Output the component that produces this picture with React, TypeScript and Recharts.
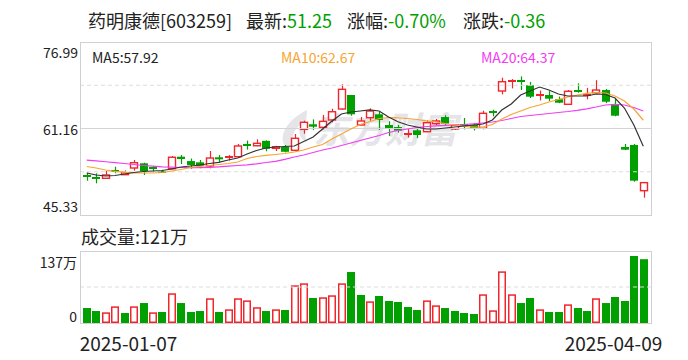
import React from 'react';
import { ComposedChart, Bar, Line, XAxis, YAxis, ReferenceLine } from 'recharts';

// trading days shown on the chart
const dates = [
  '2025-01-07', '2025-01-08', '2025-01-09', '2025-01-10', '2025-01-13', '2025-01-14', '2025-01-15', '2025-01-16',
  '2025-01-17', '2025-01-20', '2025-01-21', '2025-01-22', '2025-01-23', '2025-01-24', '2025-01-27',
  '2025-02-05', '2025-02-06', '2025-02-07', '2025-02-10', '2025-02-11', '2025-02-12', '2025-02-13', '2025-02-14',
  '2025-02-17', '2025-02-18', '2025-02-19', '2025-02-20', '2025-02-21', '2025-02-24', '2025-02-25', '2025-02-26',
  '2025-02-27', '2025-02-28',
  '2025-03-03', '2025-03-04', '2025-03-05', '2025-03-06', '2025-03-07', '2025-03-10', '2025-03-11', '2025-03-12',
  '2025-03-13', '2025-03-14', '2025-03-17', '2025-03-18', '2025-03-19', '2025-03-20', '2025-03-21', '2025-03-24',
  '2025-03-25', '2025-03-26', '2025-03-27', '2025-03-28', '2025-03-31',
  '2025-04-01', '2025-04-02', '2025-04-03', '2025-04-07', '2025-04-08', '2025-04-09',
];

const opens = [
  52.5, 52.2, 52.05, 53.48, 52.71, 53.93, 54.79, 53.92, 53.3, 53.8, 56.0, 55.2, 54.97, 54.3, 55.89,
  55.8, 56.0, 58.2, 58.0, 58.9, 57.53, 57.77, 57.17, 61.0, 61.93, 61.38, 62.72, 64.73, 67.29, 61.8,
  63.14, 63.76, 61.8, 61.43, 60.2, 60.83, 60.57, 62.04, 63.26, 61.07, 61.78, 61.8, 61.2, 64.2, 68.02,
  69.7, 69.95, 69.06, 67.3, 67.29, 66.5, 65.59, 68.05, 67.2, 67.71, 68.2, 65.46, 57.77, 58.14, 49.78,
];
const highs = [
  53.07, 52.96, 53.38, 54.17, 53.5, 55.4, 54.9, 54.3, 53.6, 56.13, 56.31, 55.66, 55.4, 57.04, 56.3,
  56.3, 58.32, 58.95, 59.18, 59.0, 58.0, 58.14, 60.15, 62.59, 62.83, 63.63, 64.78, 69.25, 67.3, 63.26,
  64.85, 64.2, 62.5, 61.8, 61.1, 61.2, 62.66, 62.9, 63.6, 61.8, 63.08, 62.1, 64.42, 64.6, 70.46,
  70.2, 70.7, 69.68, 68.1, 68.0, 67.0, 68.2, 69.43, 68.6, 70.0, 68.4, 66.6, 58.32, 58.32, 51.4,
];
const lows = [
  51.6, 51.13, 52.0, 52.96, 52.65, 53.44, 52.65, 53.2, 53.1, 53.7, 54.66, 53.8, 53.9, 53.87, 54.9,
  55.3, 55.95, 57.3, 57.9, 57.0, 57.04, 56.8, 57.0, 60.2, 60.9, 61.0, 62.3, 64.6, 63.5, 61.7,
  62.6, 60.9, 59.8, 60.4, 59.5, 59.4, 60.5, 61.8, 61.7, 60.9, 61.0, 60.8, 61.0, 63.4, 67.4,
  68.5, 68.2, 66.74, 66.3, 66.2, 65.8, 65.5, 67.7, 66.5, 67.6, 65.8, 63.4, 57.2, 51.43, 48.5,
];
const closes = [
  52.45, 52.14, 52.65, 53.42, 53.07, 54.9, 53.38, 53.87, 53.25, 55.9, 55.58, 54.48, 54.3, 55.76, 55.52,
  55.99, 57.96, 58.1, 58.45, 57.45, 57.83, 56.9, 59.37, 62.29, 61.49, 62.47, 64.23, 68.33, 63.76, 62.53,
  64.36, 62.72, 61.07, 60.76, 60.28, 59.97, 62.22, 62.53, 62.04, 61.75, 61.7, 61.2, 63.94, 64.12, 69.72,
  69.85, 69.8, 66.98, 67.42, 66.62, 65.88, 67.97, 67.9, 67.29, 68.2, 66.06, 63.5, 57.28, 51.61, 51.25,
];
// 成交量, 万
const volumes = [
  28.5, 22.8, 20.3, 31.7, 19.0, 31.7, 38.0, 20.3, 21.0, 56.5, 38.0, 21.0, 22.8, 47.0, 21.0,
  26.0, 47.0, 43.0, 30.0, 22.8, 26.0, 24.7, 71.7, 75.5, 47.6, 48.9, 52.7, 75.5, 97.0, 53.3,
  41.2, 51.4, 41.9, 40.0, 30.4, 24.7, 43.0, 33.6, 28.5, 22.8, 19.0, 17.1, 54.6, 24.1, 98.3,
  54.6, 38.0, 47.6, 26.0, 21.0, 21.0, 35.5, 28.5, 22.8, 47.0, 38.0, 49.5, 41.9, 127.5, 121.4,
];
// moving averages
const ma5 = [
  53.02, 52.65, 52.47, 52.56, 52.83, 53.11, 53.29, 53.38, 53.47, 53.75, 54.11, 54.3, 54.48, 54.75, 54.97,
  55.39, 55.76, 56.49, 57.13, 57.59, 57.77, 57.87, 57.96, 58.78, 59.6, 61.07, 62.53, 63.81, 64.18, 64.36,
  64.55, 64.36, 63.26, 62.4, 61.8, 61.43, 61.07, 61.07, 61.25, 61.43, 61.62, 61.8, 61.98, 62.72, 64.55,
  65.64, 67.29, 68.02, 68.75, 68.21, 67.47, 67.11, 67.11, 67.11, 67.47, 67.38, 66.74, 64.91, 61.8, 57.92,
];
const ma10 = [
  54.21, 53.93, 53.56, 53.33, 53.16, 53.05, 53.02, 53.02, 53.11, 53.38, 53.66, 54.02, 54.24, 54.39, 54.57,
  54.75, 55.03, 55.67, 56.04, 56.25, 56.4, 56.58, 56.86, 57.22, 57.77, 58.23, 59.24, 60.15, 61.07, 61.89,
  62.4, 62.99, 63.17, 63.12, 62.99, 62.81, 62.57, 62.35, 62.07, 61.8, 61.56, 61.4, 61.43, 61.89, 62.9,
  63.72, 64.36, 65.0, 65.46, 66.01, 66.47, 66.92, 67.29, 67.6, 67.75, 67.66, 67.11, 66.19, 64.73, 62.67,
];
const ma20 = [
  55.39, 55.25, 55.07, 54.9, 54.75, 54.57, 54.39, 54.26, 54.15, 54.08, 54.02, 54.0, 54.0, 54.06, 54.15,
  54.26, 54.39, 54.52, 54.7, 54.94, 55.16, 55.52, 55.94, 56.31, 56.77, 57.22, 57.59, 58.05, 58.51, 58.96,
  59.42, 59.88, 60.43, 60.79, 61.07, 61.34, 61.53, 61.65, 61.75, 61.8, 61.89, 62.02, 62.17, 62.35, 62.62,
  62.99, 63.36, 63.54, 63.72, 63.9, 64.09, 64.27, 64.49, 64.76, 65.09, 65.46, 65.59, 65.46, 65.0, 64.37,
];

const priceTicks = [45.33, 61.16, 76.99];
const priceGrid = [53.245, 69.075];
const volTicks = [0, 137];

const RED = '#f0262c';
const GREEN = '#00a000';
const FONT = '"Noto Sans CJK SC", "Noto Sans", sans-serif';

const rows = dates.map((date, i) => ({
  date,
  range: [lows[i], highs[i]],
  open: opens[i],
  high: highs[i],
  low: lows[i],
  close: closes[i],
  ma5: ma5[i],
  ma10: ma10[i],
  ma20: ma20[i],
  vol: volumes[i],
  volUp: i > 0 && closes[i] >= closes[i - 1],
}));

function Candle(props: any) {
  const { x, y, width, height, payload } = props;
  if (!payload) return null;
  const { open, close, high, low } = payload;
  const top = Math.min(y, y + height);
  const h = Math.abs(height);
  const py = (v: number) => top + ((high - v) / (high - low)) * h;
  const cx = Math.round(x + width / 2) + 0.5;
  const left = Math.round(x) + 0.5;
  const w = Math.round(width) - 1;
  const yo = py(open);
  const yc = py(close);
  const bt = Math.min(yo, yc);
  const bb = Math.max(yo, yc);
  const c = close >= open ? RED : GREEN;

  if (bb - bt < 1.5) {
    const my = Math.round((bt + bb) / 2);
    return (
      <g>
        <line x1={cx} x2={cx} y1={top} y2={top + h} stroke={c} strokeWidth={1.2} />
        <rect x={left - 0.5} y={my - 1} width={w + 1} height={2} fill={c} />
      </g>
    );
  }
  if (close >= open) {
    return (
      <g>
        <line x1={cx} x2={cx} y1={top} y2={bt} stroke={c} strokeWidth={1.2} />
        <line x1={cx} x2={cx} y1={bb} y2={top + h} stroke={c} strokeWidth={1.2} />
        <rect x={left} y={bt} width={w} height={bb - bt} fill="#fff" stroke={c} strokeWidth={1.4} />
      </g>
    );
  }
  return (
    <g>
      <line x1={cx} x2={cx} y1={top} y2={top + h} stroke={c} strokeWidth={1.2} />
      <rect x={left - 0.5} y={bt} width={w + 1} height={bb - bt} fill={c} />
    </g>
  );
}

function VolBar(props: any) {
  const { x, y, width, height, payload } = props;
  if (!payload) return null;
  const top = Math.min(y, y + height);
  const h = Math.abs(height);
  if (payload.volUp) {
    return (
      <rect x={Math.round(x) + 0.75} y={top + 0.75} width={Math.round(width) - 1.5} height={Math.max(h - 1.5, 0)}
        fill="#fff" stroke={RED} strokeWidth={1.5} />
    );
  }
  return <rect x={Math.round(x)} y={top} width={Math.round(width)} height={h} fill={GREEN} />;
}

function PriceTick(props: any) {
  const { y, payload } = props;
  const v = payload.value;
  const dy = v === priceTicks[2] ? 10 : v === priceTicks[0] ? -9 : 0;
  return (
    <text x={78} y={y + dy} textAnchor="end" dominantBaseline="central" fontSize={14} fill="#222" fontFamily={FONT}>
      {v.toFixed(2)}
    </text>
  );
}

function VolTick(props: any) {
  const { y, payload } = props;
  const v = payload.value;
  const dy = v === 0 ? -7 : 11;
  return (
    <text x={77} y={y + dy} textAnchor="end" dominantBaseline="central" fontSize={14} fill="#222" fontFamily={FONT}>
      {v === 0 ? '0' : `${v}万`}
    </text>
  );
}

function DateTick(props: any) {
  const { x, payload, index } = props;
  const first = index === 0;
  return (
    <text x={first ? x - 7 : x + 19} y={102} textAnchor={first ? 'start' : 'end'} dominantBaseline="central"
      fontSize={19} fill="#222" fontFamily={FONT}>
      {payload.value}
    </text>
  );
}

const frame = (top: number, height: number): React.CSSProperties => ({
  position: 'absolute', left: 80, top, width: 572, height, border: '1px solid #cfcfd6',
  boxSizing: 'border-box', pointerEvents: 'none',
});

const span = (left: number, top: number, size: number, color: string): React.CSSProperties => ({
  position: 'absolute', left, top, fontSize: size, lineHeight: `${size + 4}px`, color, whiteSpace: 'nowrap',
});

export default function App() {
  const last = closes.length - 1;
  const chg = closes[last] - closes[last - 1];
  const pct = (chg / closes[last - 1]) * 100;
  return (
    <div style={{ position: 'absolute', left: 0, top: 0, width: 688, height: 360, background: '#fff', fontFamily: FONT, overflow: 'hidden' }}>
      <span style={span(88, 9, 18, '#222')}>药明康德[603259]</span>
      <span style={span(246, 9, 18, '#222')}>最新:<span style={{ color: GREEN }}>{closes[last].toFixed(2)}</span></span>
      <span style={span(347, 9, 18, '#222')}>涨幅:<span style={{ color: GREEN }}>{pct.toFixed(2)}%</span></span>
      <span style={span(463, 9, 18, '#222')}>涨跌:<span style={{ color: GREEN }}>{chg.toFixed(2)}</span></span>

      {/* watermark */}
      <svg width={40} height={44} style={{ position: 'absolute', left: 277, top: 108 }}>
        <path d="M30 2 C14 10 4 22 6 34 C8 40 14 43 20 43 C12 36 14 24 24 16 C20 26 24 32 30 34 C26 24 30 12 30 2 Z"
          fill="#e4e4e9" />
      </svg>
      <span style={{ ...span(313, 107, 36, '#e4e4e9'), fontWeight: 700, fontStyle: 'italic' }}>东方财富</span>

      <div style={{ position: 'absolute', left: 0, top: 0 }}>
        <ComposedChart width={688} height={230} data={rows} margin={{ top: 42, right: 37, bottom: 15, left: 0 }}>
          <XAxis dataKey="date" hide padding={{ left: 2, right: 3 }} />
          <YAxis domain={[priceTicks[0], priceTicks[2]]} ticks={priceTicks} width={80} axisLine={false} tickLine={false}
            tick={<PriceTick />} allowDataOverflow />
          {priceGrid.map((v) => (
            <ReferenceLine key={v} y={v} stroke="#dcdcdc" strokeDasharray="4 3" />
          ))}
          <ReferenceLine y={priceTicks[1]} stroke="#d4d4d8" />
          <Bar dataKey="range" barSize={8} shape={<Candle />} isAnimationActive={false} />
          <Line dataKey="ma20" stroke="#f23cf2" strokeWidth={1.2} dot={false} isAnimationActive={false} />
          <Line dataKey="ma10" stroke="#f7a531" strokeWidth={1.2} dot={false} isAnimationActive={false} />
          <Line dataKey="ma5" stroke="#333" strokeWidth={1.2} dot={false} isAnimationActive={false} />
        </ComposedChart>
      </div>
      <div style={frame(42, 174)} />

      <span style={span(92, 48, 14, '#222')}>MA5:{ma5[last].toFixed(2)}</span>
      <span style={span(281, 48, 14, '#f7a531')}>MA10:{ma10[last].toFixed(2)}</span>
      <span style={span(481, 48, 14, '#f23cf2')}>MA20:{ma20[last].toFixed(2)}</span>

      <span style={span(81, 225, 18, '#222')}>成交量:{Math.floor(volumes[last])}万</span>

      <div style={{ position: 'absolute', left: 0, top: 240 }}>
        <ComposedChart width={688} height={120} data={rows} margin={{ top: 11, right: 37, bottom: 0, left: 0 }}>
          <XAxis dataKey="date" height={37} padding={{ left: 2, right: 3 }} axisLine={false} tickLine={false}
            ticks={[dates[0], dates[last]]} interval={0} tick={<DateTick />} />
          <YAxis domain={[volTicks[0], volTicks[1]]} ticks={volTicks} width={80} axisLine={false} tickLine={false}
            tick={<VolTick />} allowDataOverflow />
          <ReferenceLine y={volTicks[1] / 2} stroke="#dcdcdc" strokeDasharray="4 3" />
          <Bar dataKey="vol" barSize={8} shape={<VolBar />} isAnimationActive={false} />
        </ComposedChart>
      </div>
      <div style={frame(251, 73)} />
    </div>
  );
}
